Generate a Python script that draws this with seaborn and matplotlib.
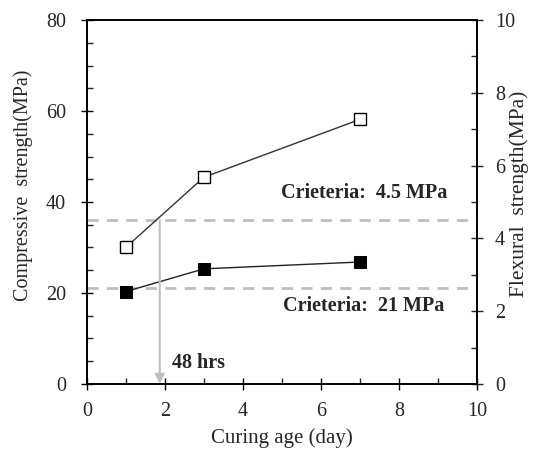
import matplotlib
matplotlib.use("Agg")
import matplotlib.pyplot as plt
import seaborn as sns
import pandas as pd
from matplotlib.ticker import MultipleLocator

sns.set_style("white")
plt.rcParams['font.family'] = ['Liberation Serif', 'DejaVu Serif']

# Data
age_days = [1, 3, 7]
compressive = [20.3, 25.3, 26.8]      # MPa (left axis, filled squares)
flexural = [3.75, 5.68, 7.27]         # MPa (right axis, open squares)
crit_compressive = 21.0
crit_flexural = 4.5
arrow_x = 1.87

txt_color = "#262626"

fig, ax = plt.subplots(figsize=(5.39, 4.57), dpi=100)
fig.subplots_adjust(left=0.161, right=0.885, top=0.956, bottom=0.16)
ax2 = ax.twinx()

df_c = pd.DataFrame({"age": age_days, "val": compressive})
df_f = pd.DataFrame({"age": age_days, "val": flexural})

sns.lineplot(data=df_c, x="age", y="val", ax=ax, color="#222222", lw=1.0,
             marker="s", markersize=8, markerfacecolor="black",
             markeredgecolor="black", zorder=5)
sns.lineplot(data=df_f, x="age", y="val", ax=ax2, color="#333333", lw=1.0,
             marker="s", markersize=8, markerfacecolor="white",
             markeredgecolor="black", markeredgewidth=1.0, zorder=5)

ax.set_xlim(0, 10)
ax.set_ylim(0, 80)
ax2.set_ylim(0, 10)

# Criteria lines
ax.axhline(crit_compressive, color="#bfbfbf", lw=2.0, ls=(0, (4, 3)), zorder=1)
ax2.axhline(crit_flexural, color="#bfbfbf", lw=2.0, ls=(0, (4, 3)), zorder=1)

# Arrow 48 hrs
ax2.annotate("", xy=(arrow_x, 0.0), xytext=(arrow_x, crit_flexural),
             arrowprops=dict(arrowstyle="-|>", color="#bfbfbf", lw=1.5,
                             mutation_scale=14, shrinkA=0, shrinkB=0))
ax.text(2.18, 4.6, "48 hrs", fontsize=14.5, fontweight="bold", ha="left", va="center",
        color=txt_color)
ax.text(7.1, 42.0, "Crieteria:  4.5 MPa", fontsize=14.5, fontweight="bold", ha="center",
        va="center", color=txt_color)
ax.text(7.1, 17.1, "Crieteria:  21 MPa", fontsize=14.5, fontweight="bold", ha="center",
        va="center", color=txt_color)

# Ticks
ax.xaxis.set_major_locator(MultipleLocator(2))
ax.xaxis.set_minor_locator(MultipleLocator(1))
ax.yaxis.set_major_locator(MultipleLocator(20))
ax.yaxis.set_minor_locator(MultipleLocator(5))
ax2.yaxis.set_major_locator(MultipleLocator(2))
ax2.yaxis.set_minor_locator(MultipleLocator(1))

ax.tick_params(axis="both", which="major", direction="inout", length=8, width=1,
               labelsize=14.5, color="black", labelcolor=txt_color)
ax.tick_params(axis="both", which="minor", direction="in", length=4, width=1)
ax.tick_params(axis="x", which="both", bottom=True, top=False)
ax.tick_params(axis="x", which="major", pad=9)
ax.tick_params(axis="y", which="both", left=True, right=False)
ax.tick_params(axis="y", which="major", pad=11)
ax2.tick_params(axis="y", which="major", direction="inout", length=8, width=1,
                labelsize=14.5, right=True, left=False, pad=9, labelcolor=txt_color)
ax2.tick_params(axis="y", which="minor", direction="in", length=4, width=1, right=True)

for a in (ax, ax2):
    for s in a.spines.values():
        s.set_color("black")
        s.set_linewidth(1.2)
        s.set_visible(True)

ax.set_xlabel("Curing age (day)", fontsize=15, va="center", color=txt_color)
ax.xaxis.set_label_coords(0.5, -0.148)
ax.set_ylabel("Compressive  strength(MPa)", fontsize=14.5, va="center", color=txt_color)
ax.yaxis.set_label_coords(-0.163, 0.545)
ax2.set_ylabel("Flexural  strength(MPa)", fontsize=15.5, va="center", color=txt_color)
ax2.yaxis.set_label_coords(1.108, 0.523)

fig.savefig("out.png", dpi=100)
